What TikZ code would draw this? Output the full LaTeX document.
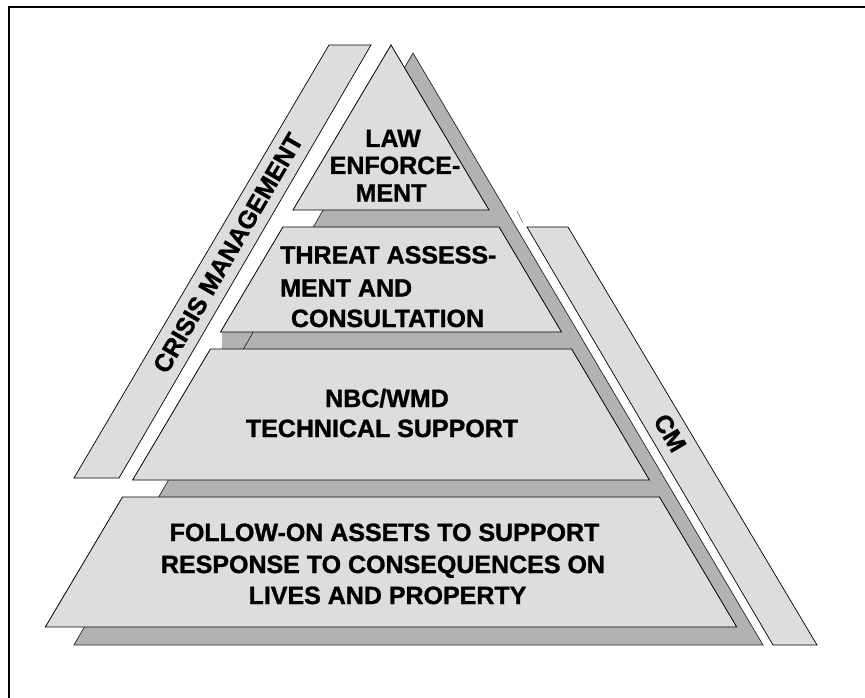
\documentclass[tikz,border=0pt]{standalone}
\usepackage{fontspec}
\setmainfont{Liberation Sans}[BoldFeatures={FakeBold=1.2}]
\definecolor{layerfill}{RGB}{221,221,221}
\definecolor{shadefill}{RGB}{178,178,178}
\newcommand\lblfont{\fontsize{25}{30}\selectfont\bfseries}
\tikzset{
  layer/.style={fill=layerfill, draw=black, line width=0.8pt, line join=miter},
  sideband/.style={fill=layerfill, draw=black, line width=0.7pt},
  shadeshape/.style={fill=shadefill, draw=black!85, line width=0.7pt},
  lbl/.style={font=\lblfont, inner sep=0pt, anchor=base},
  lblw/.style={font=\lblfont, inner sep=0pt, anchor=base west},
  frameline/.style={draw=black, line width=2pt}
}
\begin{document}
\begin{tikzpicture}[x=1pt,y=-1pt]
\useasboundingbox (0,0) rectangle (865,698);
% frame
\draw[frameline] (9,698) -- (9,7) -- (865,7);
% side bands
\draw[sideband] (74,478) -- (119,478) -- (371,45) -- (329,45) -- cycle;
\draw[sideband] (527,227) -- (568,227) -- (817,645) -- (773,645) -- cycle;
\draw[draw=black!60, line width=0.6pt] (517,211) -- (523,223);
% shadow
\fill[shadefill] (222,332) rectangle (400,349);
\draw[shadeshape] (413,53) -- (763,645) -- (74,645) -- cycle;
% front layers
\draw[layer] (391,45) -- (489,210) -- (293,210) -- cycle;
\draw[layer] (282.9,227) -- (499.1,227) -- (561.5,332) -- (220.5,332) -- cycle;
\draw[layer] (210.4,349) -- (571.6,349) -- (649.4,480) -- (132.6,480) -- cycle;
\draw[layer] (122.5,497) -- (659.5,497) -- (736.7,627) -- (45.3,627) -- cycle;
% texts
\node[lbl] (law1) at (393,147) {LAW};
\node[lbl] (law2) at (395,174) {ENFORCE-};
\node[lbl] (law3) at (391,201.5) {MENT};
\node[lblw] (thr1) at (280,263.5) {THREAT ASSESS-};
\node[lblw] (thr2) at (280,296.5) {MENT AND};
\node[lbl] (thr3) at (387.5,327) {CONSULTATION};
\node[lbl] (nbc1) at (387,407) {NBC/WMD};
\node[lbl] (nbc2) at (382,437) {TECHNICAL SUPPORT};
\node[lbl] (fol1) at (384.5,541) {FOLLOW-ON ASSETS TO SUPPORT};
\node[lbl] (fol2) at (383,573) {RESPONSE TO CONSEQUENCES ON};
\node[lbl] (fol3) at (387.5,604) {LIVES AND PROPERTY};
\node[font=\lblfont, inner sep=0pt, rotate=59.8] (crisis) at (228,253) {CRISIS MANAGEMENT};
\node[font=\lblfont, inner sep=0pt, rotate=-59.5] (cm) at (670,433) {CM};
\end{tikzpicture}
\end{document}
